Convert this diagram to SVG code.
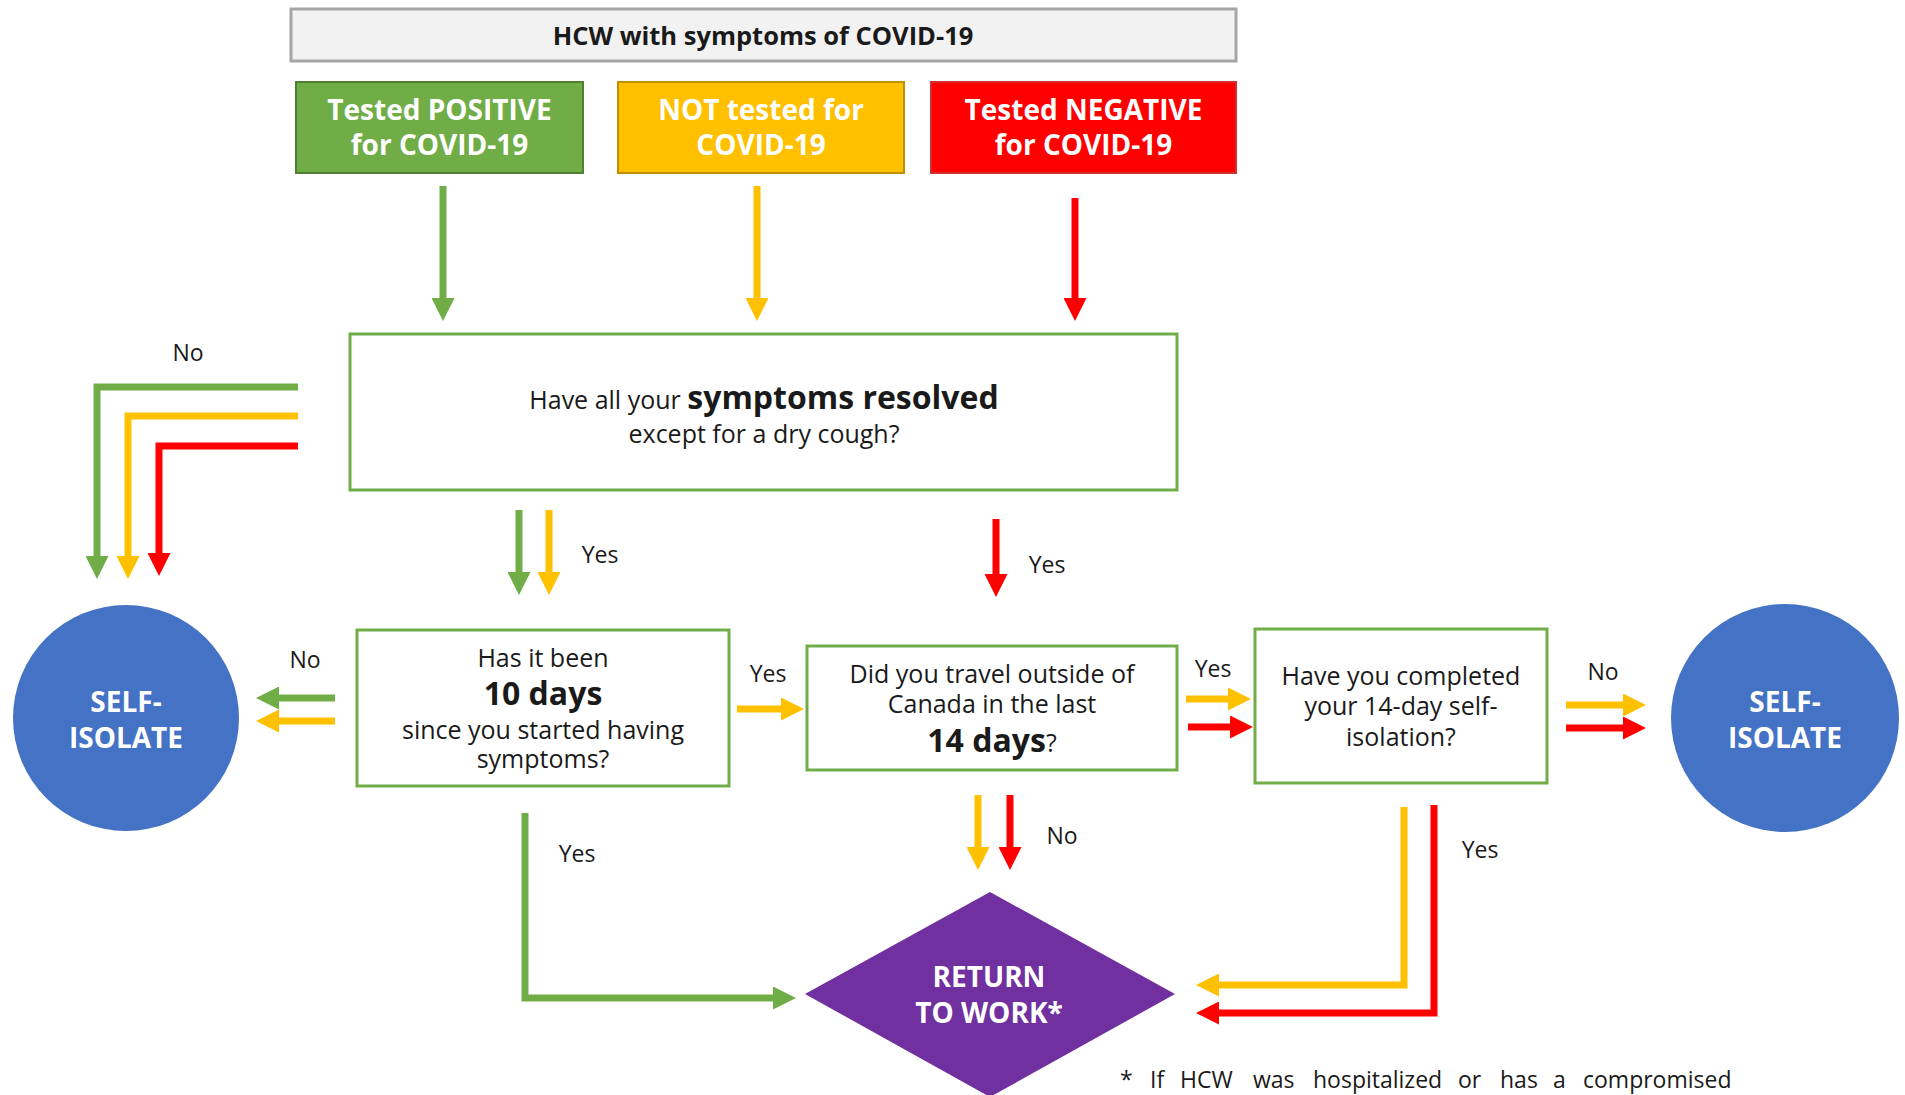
<svg xmlns="http://www.w3.org/2000/svg" width="1905" height="1095" viewBox="0 0 1905 1095">
<style>
  .t { font-family: "Open Sans", "Noto Sans", "DejaVu Sans", sans-serif; fill: #1a1a1a; }
  .q { font-size: 25px; text-anchor: middle; }
  .lbl { font-size: 23px; text-anchor: middle; }
  .b { font-weight: bold; }
  .big { font-size: 32px; font-weight: bold; }
  .w { fill: #ffffff; font-weight: bold; text-anchor: middle; font-size: 28px; }
  .qbox { fill: #ffffff; stroke: #70AD47; stroke-width: 3; }
  .cg { fill: none; stroke: #70AD47; stroke-width: 7; marker-end: url(#ag); }
  .cy { fill: none; stroke: #FFC000; stroke-width: 7; marker-end: url(#ay); }
  .cr { fill: none; stroke: #FF0000; stroke-width: 7; marker-end: url(#ar); }
</style>
<defs>
  <marker id="ag" viewBox="0 0 23 23" markerWidth="23" markerHeight="23" markerUnits="userSpaceOnUse" refX="1" refY="11.5" orient="auto"><path d="M0,0 L23,11.5 L0,23 Z" fill="#70AD47"/></marker>
  <marker id="ay" viewBox="0 0 23 23" markerWidth="23" markerHeight="23" markerUnits="userSpaceOnUse" refX="1" refY="11.5" orient="auto"><path d="M0,0 L23,11.5 L0,23 Z" fill="#FFC000"/></marker>
  <marker id="ar" viewBox="0 0 23 23" markerWidth="23" markerHeight="23" markerUnits="userSpaceOnUse" refX="1" refY="11.5" orient="auto"><path d="M0,0 L23,11.5 L0,23 Z" fill="#FF0000"/></marker>
</defs>
<rect width="1905" height="1095" fill="#ffffff"/>

<g id="header">
  <rect x="291" y="9" width="945" height="52" fill="#F2F2F2" stroke="#A6A6A6" stroke-width="3"/>
  <text class="t b" x="763" y="45" font-size="25.5" text-anchor="middle">HCW with symptoms of COVID-19</text>
</g>
<g id="positive">
  <rect x="296" y="82" width="287" height="91" fill="#70AD47" stroke="#507E32" stroke-width="2"/>
  <text class="t w"><tspan x="439.5" y="120">Tested POSITIVE</tspan><tspan x="439.5" y="155">for COVID-19</tspan></text>
</g>
<g id="nottested">
  <rect x="618" y="82" width="286" height="91" fill="#FFC000" stroke="#BF9000" stroke-width="2"/>
  <text class="t w"><tspan x="761" y="120">NOT tested for</tspan><tspan x="761" y="155">COVID-19</tspan></text>
</g>
<g id="negative">
  <rect x="931" y="82" width="305" height="91" fill="#FF0000" stroke="#D03030" stroke-width="2"/>
  <text class="t w"><tspan x="1083.5" y="120">Tested NEGATIVE</tspan><tspan x="1083.5" y="155">for COVID-19</tspan></text>
</g>

<g id="q-symptoms">
  <rect class="qbox" x="350" y="334" width="827" height="156"/>
  <text class="t q" x="764" y="409">Have all your <tspan class="big">symptoms resolved</tspan></text>
  <text class="t q" x="764" y="443">except for a dry cough?</text>
</g>
<g id="q-10days">
  <rect class="qbox" x="357" y="630" width="372" height="156"/>
  <text class="t q" x="543" y="667">Has it been</text>
  <text class="t q big" x="543" y="705">10 days</text>
  <text class="t q" x="543" y="739">since you started having</text>
  <text class="t q" x="543" y="768">symptoms?</text>
</g>
<g id="q-travel">
  <rect class="qbox" x="807" y="646" width="370" height="124"/>
  <text class="t q" x="992" y="683">Did you travel outside of</text>
  <text class="t q" x="992" y="713">Canada in the last</text>
  <text class="t q" x="992" y="752"><tspan class="big">14 days</tspan>?</text>
</g>
<g id="q-completed">
  <rect class="qbox" x="1255" y="629" width="292" height="154"/>
  <text class="t q" x="1401" y="685">Have you completed</text>
  <text class="t q" x="1401" y="715">your 14-day self-</text>
  <text class="t q" x="1401" y="746">isolation?</text>
</g>

<g id="self-isolate-left">
  <circle cx="126" cy="718" r="113" fill="#4472C4"/>
  <text class="t w"><tspan x="126" y="712">SELF-</tspan><tspan x="126" y="748">ISOLATE</tspan></text>
</g>
<g id="self-isolate-right">
  <circle cx="1785" cy="718" r="114" fill="#4472C4"/>
  <text class="t w"><tspan x="1785" y="712">SELF-</tspan><tspan x="1785" y="748">ISOLATE</tspan></text>
</g>
<g id="return-to-work">
  <polygon points="990,892 1175,994 990,1097 805,994" fill="#7030A0"/>
  <text class="t w"><tspan x="989" y="987">RETURN</tspan><tspan x="989" y="1023">TO WORK*</tspan></text>
</g>

<g id="connectors">
  <path class="cg" d="M443,186 V299"/>
  <path class="cy" d="M757,186 V299"/>
  <path class="cr" d="M1075,198 V299"/>

  <path class="cg" d="M298,387 H97 V557"/>
  <path class="cy" d="M298,416 H128 V557"/>
  <path class="cr" d="M298,446 H159 V554"/>

  <path class="cg" d="M519,510 V573"/>
  <path class="cy" d="M549,510 V573"/>
  <path class="cr" d="M996,519 V575"/>

  <path class="cg" d="M335,698 H278"/>
  <path class="cy" d="M335,721 H278"/>

  <path class="cy" d="M737,709 H782"/>

  <path class="cy" d="M1186,699 H1229"/>
  <path class="cr" d="M1188,727 H1231"/>

  <path class="cy" d="M1566,705 H1624"/>
  <path class="cr" d="M1566,728 H1624"/>

  <path class="cg" d="M525,813 V998 H774"/>

  <path class="cy" d="M978,795 V848"/>
  <path class="cr" d="M1010,795 V848"/>

  <path class="cy" d="M1404,807 V985 H1218"/>
  <path class="cr" d="M1434,805 V1013 H1218"/>

  <g class="t lbl">
    <text x="188" y="361">No</text>
    <text x="305" y="668">No</text>
    <text x="600" y="563">Yes</text>
    <text x="1047" y="573">Yes</text>
    <text x="768" y="682">Yes</text>
    <text x="1213" y="677">Yes</text>
    <text x="1603" y="680">No</text>
    <text x="577" y="862">Yes</text>
    <text x="1062" y="844">No</text>
    <text x="1480" y="858">Yes</text>
  </g>
</g>

<text id="footnote" class="t" font-size="23" y="1088"><tspan x="1120">*</tspan><tspan x="1150">If</tspan><tspan x="1180">HCW</tspan><tspan x="1253">was</tspan><tspan x="1313">hospitalized</tspan><tspan x="1458">or</tspan><tspan x="1500">has</tspan><tspan x="1553">a</tspan><tspan x="1583">compromised</tspan></text>
</svg>
